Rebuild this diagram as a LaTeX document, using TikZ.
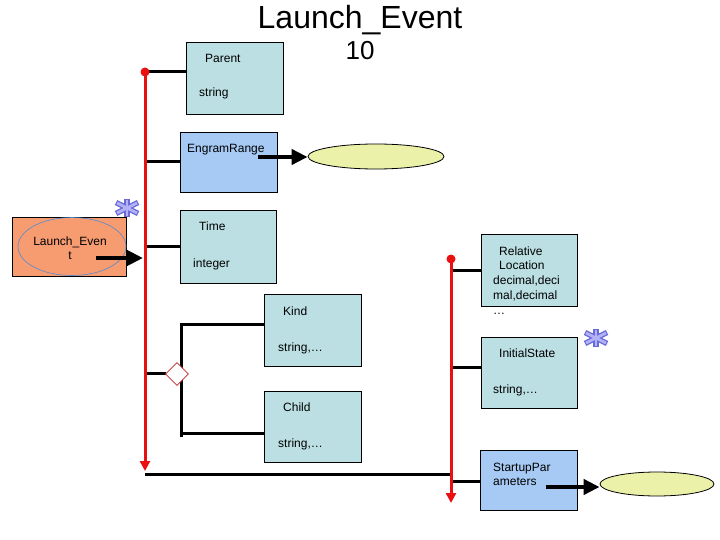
\documentclass[tikz,border=0pt]{standalone}
\usepackage{fontspec}
\setmainfont{Liberation Sans}
\usetikzlibrary{arrows.meta,shapes.geometric}
\definecolor{boxteal}{RGB}{187,223,226}
\definecolor{boxblue}{RGB}{166,202,244}
\definecolor{boxorange}{RGB}{247,155,112}
\definecolor{ellyellow}{RGB}{235,241,168}
\definecolor{linered}{RGB}{232,16,16}
\definecolor{starblue}{RGB}{105,105,220}
\definecolor{starlight}{RGB}{178,178,246}
\definecolor{diamred}{RGB}{190,40,40}
\definecolor{ellblue}{RGB}{80,140,210}
\tikzset{
  box/.style={draw=black, line width=0.8pt, rectangle, inner sep=0pt},
  tealbox/.style={box, fill=boxteal},
  bluebox/.style={box, fill=boxblue},
  txt/.style={font=\fontsize{12}{14}\selectfont, inner sep=0pt, anchor=base west},
  conn/.style={draw=black, line width=3pt},
  redline/.style={draw=linered, line width=3pt, -{Triangle[length=10pt,width=10pt]}},
  bigarrow/.style={draw=black, line width=4pt, -{Triangle[length=16pt,width=15pt]}},
  yellipse/.style={ellipse, draw=black, line width=0.8pt, fill=ellyellow, inner sep=0pt},
  astar/.pic={
    \draw[starblue, line width=5.5pt] (0,-9) -- (0,9);
    \draw[starblue, line width=5.5pt] (-11,-5.5) -- (11,5.5);
    \draw[starblue, line width=5.5pt] (-11,5.5) -- (11,-5.5);
    \draw[starlight, line width=2.8pt] (0,-8) -- (0,8);
    \draw[starlight, line width=2.8pt] (-10,-5) -- (10,5);
    \draw[starlight, line width=2.8pt] (-10,5) -- (10,-5);
  }
}
\begin{document}
\begin{tikzpicture}[x=1pt,y=-1pt]
\useasboundingbox (0,0) rectangle (720,540);
% title
\node[font=\fontsize{32}{36}\selectfont, inner sep=0pt, anchor=base] (title) at (360,29) {Launch\_Event};
\node[font=\fontsize{26}{30}\selectfont, inner sep=0pt, anchor=base] (num) at (360,60) {10};

% boxes
\node[box, fill=boxorange, minimum width=114pt, minimum height=59pt] (launch) at (69,246.5) {};
\node[ellipse, draw=ellblue, line width=0.6pt, minimum width=108pt, minimum height=58pt, inner sep=0pt] (launchell) at (72,246.5) {};
\node[font=\fontsize{12}{14}\selectfont, inner sep=0pt, anchor=base] (lt1) at (70,245) {Launch\_Even};
\node[font=\fontsize{12}{14}\selectfont, inner sep=0pt, anchor=base] (lt2) at (70,259) {t};

\node[tealbox, minimum width=97pt, minimum height=72pt] (parent) at (234.5,78) {};
\node[txt] (parentT) at (205,63) {Parent};
\node[txt] (parentS) at (199,97) {string};

\node[bluebox, minimum width=97pt, minimum height=60pt] (engram) at (228.5,162) {};
\node[txt] (engramT) at (187,153) {EngramRange};

\node[tealbox, minimum width=96pt, minimum height=73pt] (time) at (228,246.5) {};
\node[txt] (timeT) at (199,230) {Time};
\node[txt] (timeS) at (193,267) {integer};

\node[tealbox, minimum width=97pt, minimum height=72pt] (kind) at (312.5,330) {};
\node[txt] (kindT) at (283,315) {Kind};
\node[txt] (kindS) at (278,351) {string,…};

\node[tealbox, minimum width=97pt, minimum height=71pt] (child) at (312.5,426.5) {};
\node[txt] (childT) at (283,411) {Child};
\node[txt] (childS) at (278,447) {string,…};

\node[tealbox, minimum width=96pt, minimum height=72pt] (relloc) at (529,270) {};
\node[txt] (rel1) at (499,255) {Relative};
\node[txt] (rel2) at (499,269) {Location};
\node[txt] (rel3) at (493,284) {decimal,deci};
\node[txt] (rel4) at (493,299) {mal,decimal};
\node[txt] (rel5) at (493,314) {…};

\node[tealbox, minimum width=96pt, minimum height=71pt] (init) at (529,372.5) {};
\node[txt] (initT) at (499,357) {InitialState};
\node[txt] (initS) at (493,393) {string,…};

\node[bluebox, minimum width=97pt, minimum height=60pt] (startup) at (528.5,480) {};
\node[txt] (st1) at (493,471) {StartupPar};
\node[txt] (st2) at (493,485) {ameters};

% ellipses
\node[yellipse, minimum width=136pt, minimum height=25pt] (ell1) at (376,156.5) {};
\node[yellipse, minimum width=114pt, minimum height=24pt] (ell2) at (657,484) {};

% coordinates
\coordinate (redTop) at (145,72);
\coordinate (redBot) at (145,471);
\coordinate (eL) at (145,162);
\coordinate (tL) at (145,246);
\coordinate (dL) at (145,373);
\coordinate (dR) at (166,373);
\coordinate (vTop) at (181,324);
\coordinate (vBot) at (181,437);
\coordinate (cB) at (181,433);
\coordinate (bL) at (145,474);
\coordinate (bR) at (451,474);
\coordinate (redTopR) at (451,259);
\coordinate (redBotR) at (451,503);
\coordinate (rL) at (451,270);
\coordinate (iL) at (451,367);
\coordinate (sL) at (451,481);
\coordinate (aLs) at (96,258);
\coordinate (aLe) at (143,258);
\coordinate (aEs) at (258,157);
\coordinate (aSs) at (546,487);

% black connectors
\draw[conn] (redTop) -- (parent.west |- redTop);
\draw[conn] (eL) -- (engram.west |- eL);
\draw[conn] (tL) -- (time.west |- tL);
\draw[conn] (dL) -- (dR);
\draw[conn] (vTop) -- (vBot);
\draw[conn] ([xshift=-1.5pt]vTop) -- (kind.west |- vTop);
\draw[conn] (cB) -- (child.west |- cB);
\draw[conn] (bL) -- (bR);
\draw[conn] (rL) -- (relloc.west |- rL);
\draw[conn] (iL) -- (init.west |- iL);
\draw[conn] (sL) -- (startup.west |- sL);
% diamond on top
\node[diamond, draw=diamred, line width=0.6pt, fill=white, minimum width=23pt, minimum height=23pt, inner sep=0pt] (diam) at (177,374) {};

% red lines
\draw[redline] (redTop) -- (redBot);
\fill[linered] (redTop) circle (4.5pt);
\draw[redline] (redTopR) -- (redBotR);
\fill[linered] (redTopR) circle (4.5pt);

% big arrows
\draw[bigarrow] (aLs) -- (aLe);
\draw[bigarrow] (aEs) -- (ell1.west |- aEs);
\draw[bigarrow] (aSs) -- (ell2.west |- aSs);

% stars
\pic at (127,208) {astar};
\pic at (596,338) {astar};
\end{tikzpicture}
\end{document}
